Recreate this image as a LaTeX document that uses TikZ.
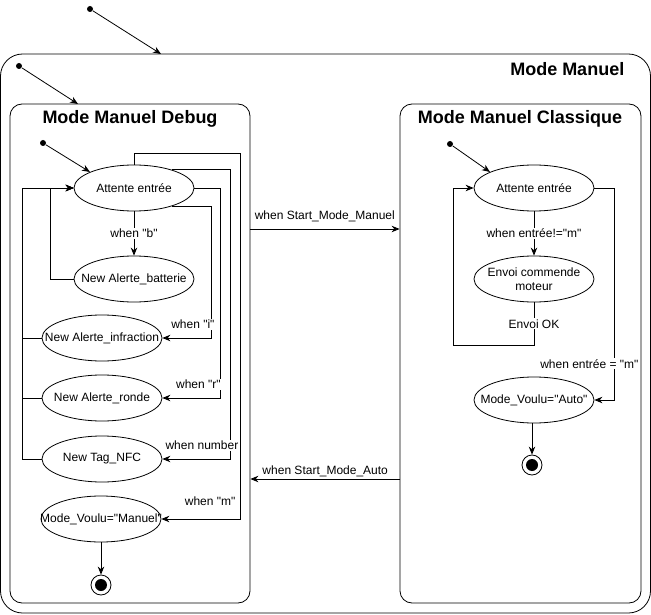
\documentclass[tikz,border=0pt]{standalone}
\usepackage{fontspec}
\setmainfont{Liberation Sans}[Ligatures=TeXOff]
\usetikzlibrary{shapes.geometric,arrows.meta,positioning}

\begin{document}
\begin{tikzpicture}[x=1pt, y=-1pt, line width=0.8pt,
  >={Stealth[length=8pt,width=6.5pt]},
  font=\fontsize{12}{14}\selectfont,
  etat/.style={draw, ellipse, minimum width=120pt, minimum height=46pt, inner xsep=-20pt, inner ysep=0pt, align=center},
  boite/.style={draw, minimum height=499pt, rounded corners=12pt},
  titre/.style={font=\fontsize{18}{21}\selectfont\bfseries},
  lbl/.style={fill=white, inner sep=1pt},
  depart/.style={circle, fill, minimum size=6pt, inner sep=0pt},
  fin/.style={circle, draw, minimum size=20pt, inner sep=0pt, path picture={\fill (path picture bounding box.center) circle (6pt);}}]
\useasboundingbox (0,0) rectangle (651,615);

% boxes
\node[draw, minimum width=650pt, minimum height=559pt, rounded corners=22pt] (mm) at (325.5,333.5) {};
\node[boite, minimum width=240pt] (dbg) at (130,353.5) {};
\node[boite, minimum width=241pt] (cls) at (520.5,353.5) {};

\node[titre, anchor=east] (t0) at (628,69) {Mode Manuel};
\node[titre] (t1) at (130,119) {Mode Manuel Debug};
\node[titre] (t2) at (520,119) {Mode Manuel Classique};

% initial states of the boxes
\node[depart] (d0) at (90,9) {};
\coordinate (c0) at (161,54);
\draw[->] (d0) -- (c0);
\node[depart] (d1) at (19,66) {};
\coordinate (c1) at (78,104);
\draw[->] (d1) -- (c1);

% Mode Manuel Debug
\node[depart] (d2) at (43,143) {};
\node[etat] (att1) at (134,188) {Attente entrée};
\node[etat] (batt) at (134,279) {New Alerte\_batterie};
\node[etat] (infr) at (102,338) {New Alerte\_infraction};
\node[etat] (ronde) at (102,398) {New Alerte\_ronde};
\node[etat] (tag) at (102,459) {New Tag\_NFC};
\node[etat] (mvm) at (101,519) {Mode\_Voulu="Manuel"};
\node[fin] (f1) at (101,585) {};

\draw[->] (d2) -- (att1.160);
\draw[->] (att1) -- node[lbl]{when "b"} (batt);
\draw[->] (batt.west) -- ++(-23,0) |- (att1.west);
\draw[->] (infr.west) -- ++(-19,0) |- (att1.west);
\draw[->] (ronde.west) -- ++(-19,0) |- (att1.west);
\draw[->] (tag.west) -- ++(-19,0) |- (att1.west);
\draw[->] (att1.334) -- ++(40,0) |- node[lbl, pos=0.69, above=8pt]{when "i"} (infr.east);
\draw[->] (att1.east) -- ++(26,0) |- node[lbl, pos=0.69, above=8pt]{when "r"} (ronde.east);
\draw[->] (att1.26) -- ++(59,0) |- node[lbl, pos=0.71, above=8pt]{when number} (tag.east);
\draw[->] (att1.north) -- ++(0,-11) -- ++(106,0) |- node[lbl, pos=0.69, above=12pt]{when "m"} (mvm.east);
\draw[->] (mvm) -- (f1);

% between the two modes
\coordinate (sm) at (250,229);
\draw[->] (sm) -- node[lbl, above=6pt]{when Start\_Mode\_Manuel} (sm -| cls.west);
\coordinate (sa) at (400,479);
\draw[->] (sa) -- node[lbl, above=1pt]{when Start\_Mode\_Auto} (sa -| dbg.east);

% Mode Manuel Classique
\node[depart] (d3) at (450,144) {};
\node[etat] (att2) at (534,188) {Attente entrée};
\node[etat] (envoi) at (534,279) {Envoi commende\\moteur};
\node[etat] (mva) at (534,400) {Mode\_Voulu="Auto"};
\node[fin] (f2) at (532,465) {};

\draw[->] (d3) -- (att2.160);
\draw[->] (att2) -- node[lbl]{when entrée!="m"} (envoi);
\draw[->] (envoi.south) -- node[lbl]{Envoi OK} ++(0,43) -- ++(-81,0) |- (att2.west);
\draw[->] (att2.east) -- ++(20,0) |- node[lbl, pos=0.415, xshift=-25pt]{when entrée = "m"} (mva.east);
\draw[->] (f2 |- mva.south) -- (f2);
\end{tikzpicture}
\end{document}
